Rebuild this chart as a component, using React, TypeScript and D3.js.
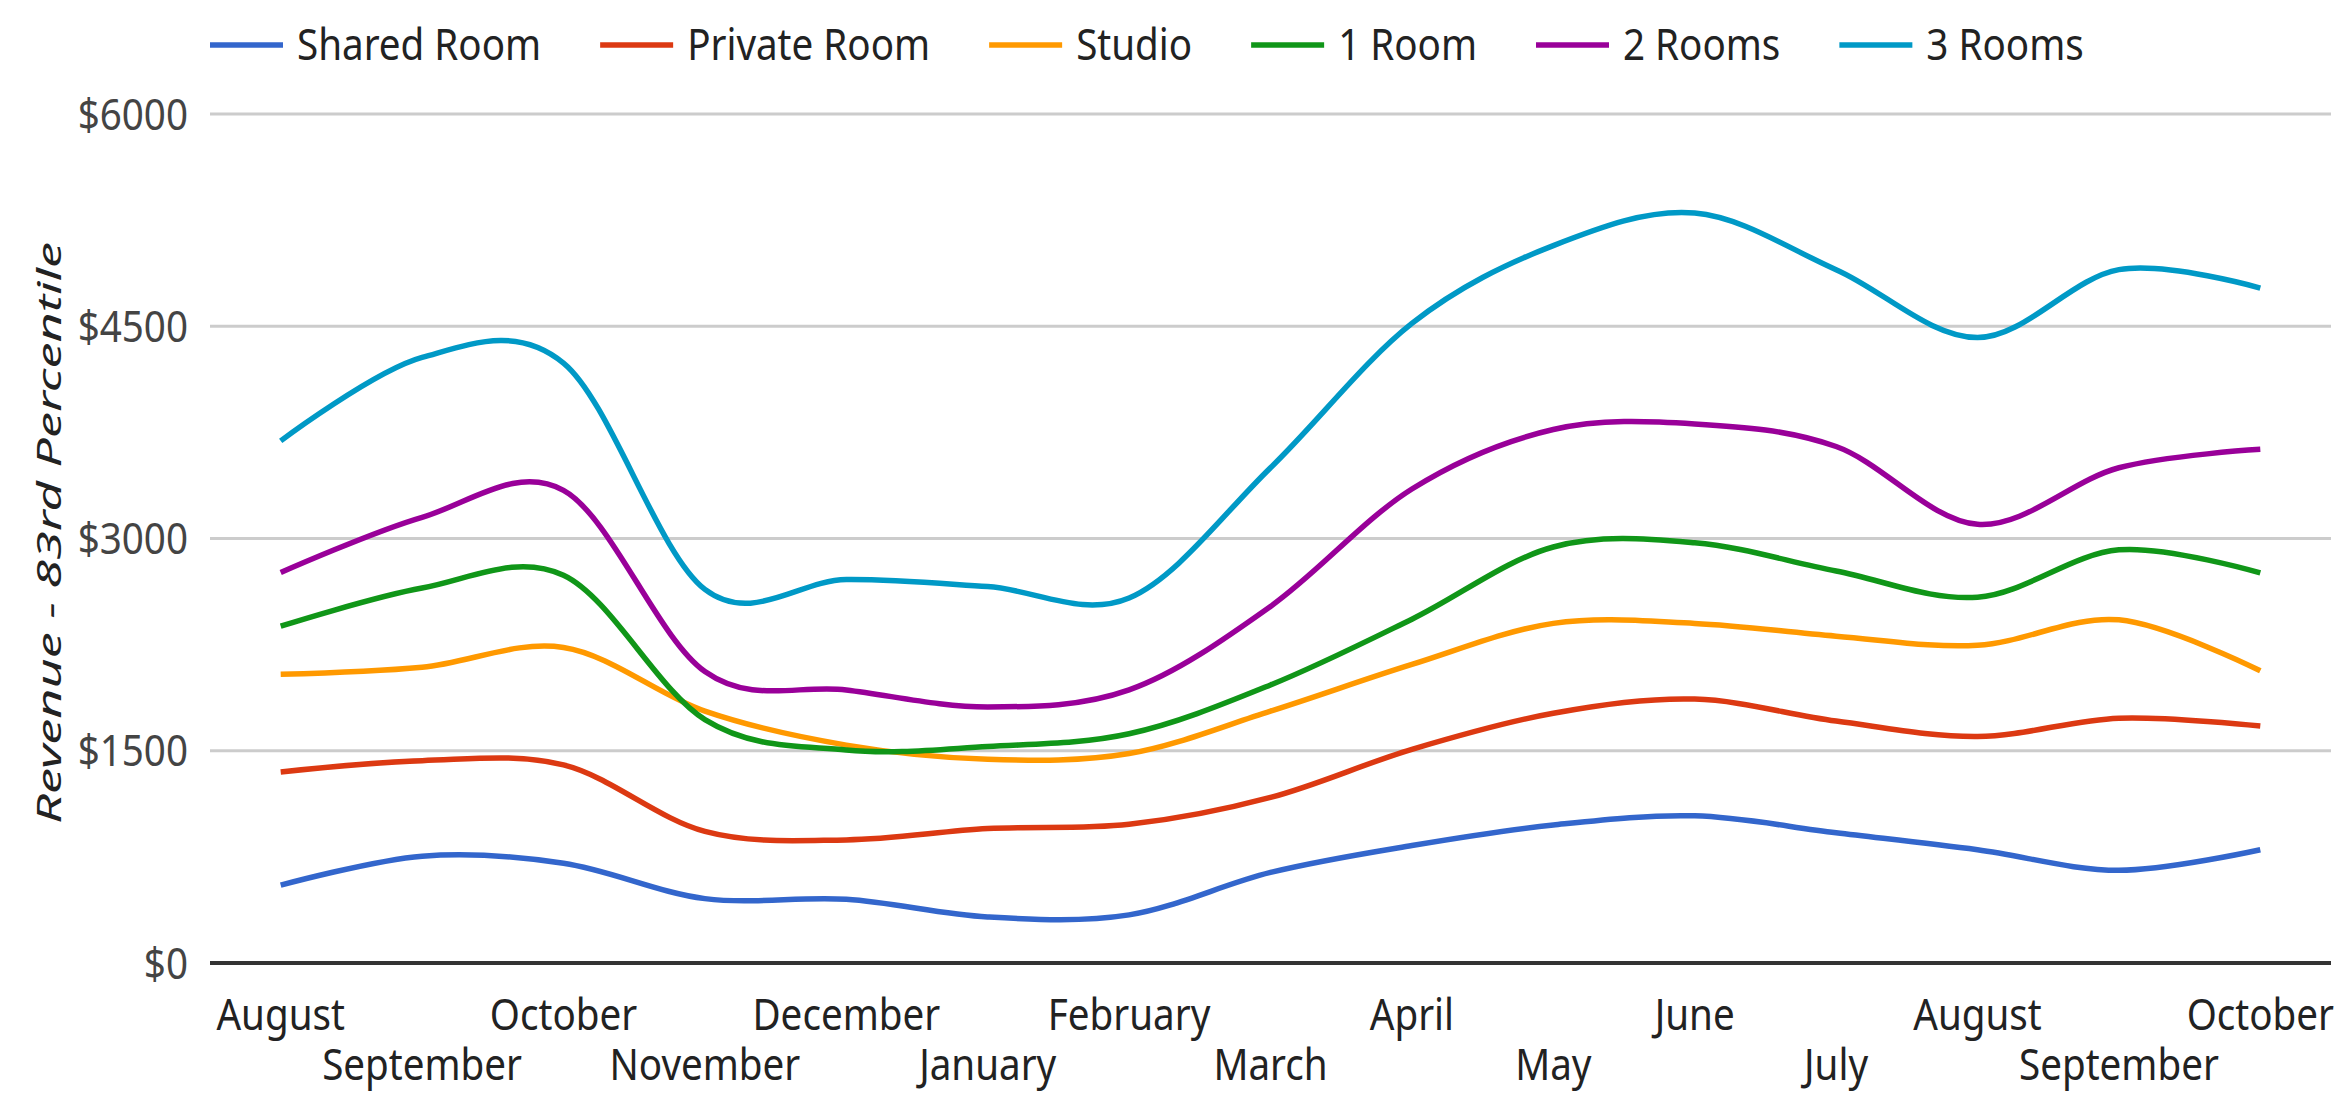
import React, { useMemo } from "react";
import * as d3 from "d3";

const months = ["August", "September", "October", "November", "December", "January", "February", "March", "April", "May", "June", "July", "August", "September", "October"];
const seriesNames = ["Shared Room", "Private Room", "Studio", "1 Room", "2 Rooms", "3 Rooms"];
const seriesColors = ["#3366cc", "#dc3912", "#ff9900", "#109618", "#990099", "#0099c6"];
const sharedRoom = [550, 755, 705, 455, 450, 325, 340, 640, 830, 975, 1040, 920, 800, 655, 800];
const privateRoom = [1350, 1430, 1400, 930, 870, 950, 980, 1170, 1510, 1765, 1865, 1710, 1600, 1730, 1675];
const studio = [2040, 2090, 2230, 1780, 1540, 1440, 1480, 1780, 2110, 2400, 2400, 2310, 2245, 2425, 2065];
const oneRoom = [2380, 2650, 2740, 1720, 1505, 1530, 1620, 1965, 2430, 2940, 2970, 2770, 2585, 2920, 2757];
const twoRooms = [2760, 3150, 3340, 2060, 1930, 1810, 1930, 2520, 3350, 3770, 3810, 3650, 3100, 3500, 3630];
const threeRooms = [3690, 4280, 4240, 2640, 2710, 2660, 2580, 3500, 4520, 5070, 5300, 4900, 4420, 4900, 4770];
const yTicks = [0, 1500, 3000, 4500, 6000];
const yTitle = "Revenue - 83rd Percentile";

const W = 2346;
const H = 1096;
const FONT = '"Noto Sans", "DejaVu Sans", sans-serif';
const FS = 44;
const SX = 0.877;

export default function App() {
  const allSeries = [sharedRoom, privateRoom, studio, oneRoom, twoRooms, threeRooms];
  const x = d3.scalePoint<number>().domain(months.map((_, i) => i)).range([210, 2331]).padding(0.5);
  const y = d3.scaleLinear().domain([0, 6000]).range([963, 114]);
  const line = d3
    .line<number>()
    .x((_, i) => x(i) as number)
    .y((d) => y(d))
    .curve(d3.curveCardinal.tension(0));

  const legend = useMemo(() => {
    const ctx = document.createElement("canvas").getContext("2d");
    let cx = 210;
    return seriesNames.map((name) => {
      let w = name.length * 20;
      if (ctx) {
        ctx.font = `${FS}px ${FONT}`;
        w = ctx.measureText(name).width * SX;
      }
      const item = { name, x: cx };
      cx += 73 + 14 + w + 59;
      return item;
    });
  }, []);

  return (
    <svg width={W} height={H} style={{ position: "absolute", left: 0, top: 0, background: "#fff" }}>
      <rect x={0} y={0} width={W} height={H} fill="#fff" />
      {/* legend */}
      {legend.map((it, i) => (
        <g key={it.name}>
          <line x1={it.x} x2={it.x + 73} y1={45} y2={45} stroke={seriesColors[i]} strokeWidth={5.5} />
          <text
            transform={`translate(${it.x + 87},60) scale(${SX},1)`}
            fontFamily={FONT}
            fontSize={FS}
            fill="#222"
          >
            {it.name}
          </text>
        </g>
      ))}
      {/* gridlines */}
      {yTicks.map((t) =>
        t === 0 ? null : (
          <line key={t} x1={210} x2={2331} y1={y(t)} y2={y(t)} stroke="#cccccc" strokeWidth={3} />
        )
      )}
      {/* y labels */}
      {yTicks.map((t) => (
        <text
          key={"l" + t}
          transform={`translate(188,${y(t) + 15.7}) scale(${SX},1)`}
          textAnchor="end"
          fontFamily={FONT}
          fontSize={FS}
          fill="#444"
        >
          {"$" + t}
        </text>
      ))}
      {/* y title */}
      <text
        transform={`translate(61,533) rotate(-90)`}
        textAnchor="middle"
        fontFamily={FONT}
        fontSize={32}
        fontStyle="italic"
        fill="#222"
        textLength={582}
        lengthAdjust="spacingAndGlyphs"
      >
        {yTitle}
      </text>
      {/* series */}
      {allSeries.map((s, i) => (
        <path key={i} d={line(s) || ""} fill="none" stroke={seriesColors[i]} strokeWidth={5.5} strokeLinejoin="round" />
      ))}
      {/* baseline */}
      <line x1={210} x2={2331} y1={y(0)} y2={y(0)} stroke="#333" strokeWidth={4} />
      {/* x labels */}
      {months.map((m, i) => (
        <text
          key={"x" + i}
          transform={`translate(${x(i)},${i % 2 === 0 ? 1030 : 1080}) scale(${SX},1)`}
          textAnchor="middle"
          fontFamily={FONT}
          fontSize={FS}
          fill="#222"
        >
          {m}
        </text>
      ))}
    </svg>
  );
}
